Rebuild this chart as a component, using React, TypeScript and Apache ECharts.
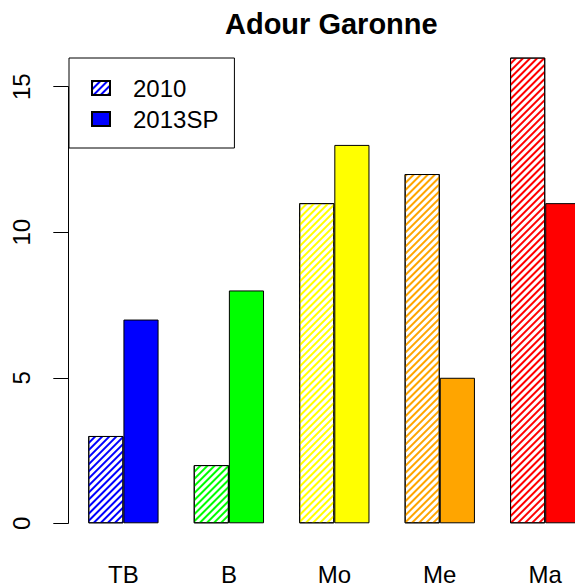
import React, { useEffect, useRef } from "react";
import * as echarts from "echarts";

const categories = ["TB", "B", "Mo", "Me", "Ma"];
const seriesNames = ["2010", "2013SP"];
const values2010 = [3, 2, 11, 12, 16];
const values2013SP = [7, 8, 13, 5, 11];
const categoryColors = ["#0000FF", "#00FF00", "#FFFF00", "#FFA500", "#FF0000"];
const yMin = 0;
const yMax = 15;
const yInterval = 5;
const titleText = "Adour Garonne";

const FONT = "'Liberation Sans', Arial, Helvetica, sans-serif";

const hatch = (color: string) => ({
  symbol: "rect",
  symbolSize: 1,
  dashArrayX: [1, 0],
  dashArrayY: [1.2, 2.2],
  rotation: -Math.PI / 4,
  color,
});

export default function App() {
  const ref = useRef<HTMLDivElement>(null);
  useEffect(() => {
    if (!ref.current) return;
    const chart = echarts.init(ref.current, null, { renderer: "svg" });
    const option: any = {
      animation: false,
      backgroundColor: "#ffffff",
      title: {
        text: titleText,
        left: 225,
        top: 9,
        padding: 0,
        textStyle: { fontFamily: FONT, fontSize: 29, fontWeight: "bold", color: "#000" },
      },
      legend: {
        data: seriesNames,
        orient: "vertical",
        left: 69,
        top: 58,
        padding: [18, 16, 17, 22],
        itemGap: 7,
        itemWidth: 18,
        itemHeight: 14,
        icon: "rect",
        borderColor: "#000",
        borderWidth: 1,
        backgroundColor: "#fff",
        textStyle: { fontFamily: FONT, fontSize: 24, color: "#000", padding: [0, 0, 0, 18] },
      },
      grid: {
        left: 70.7,
        top: 86.7,
        width: 527.25,
        height: 436.6,
        containLabel: false,
        outerBoundsMode: "none",
      },
      xAxis: {
        type: "category",
        data: categories,
        axisLine: { show: false },
        axisTick: { show: false },
        axisLabel: { margin: 41, lineHeight: 20, fontFamily: FONT, fontSize: 24, color: "#000" },
        splitLine: { show: false },
      },
      yAxis: {
        type: "value",
        min: yMin,
        max: yMax,
        interval: yInterval,
        offset: 2.4,
        axisLine: { show: true, lineStyle: { color: "#000", width: 1 } },
        axisTick: { show: true, length: 15, lineStyle: { color: "#000", width: 1 } },
        axisLabel: { rotate: 90, margin: 35, fontFamily: FONT, fontSize: 24, color: "#000" },
        splitLine: { show: false },
      },
      series: [
        {
          name: seriesNames[0],
          type: "bar",
          barWidth: 35.15,
          barGap: "0%",
          clip: false,
          itemStyle: { color: "#fff", borderColor: "#000", borderWidth: 1, decal: hatch(categoryColors[0]) },
          data: values2010.map((v, i) => ({
            value: v,
            itemStyle: { color: "#fff", borderColor: "#000", borderWidth: 1, decal: hatch(categoryColors[i]) },
          })),
        },
        {
          name: seriesNames[1],
          type: "bar",
          barWidth: 35.15,
          barGap: "0%",
          clip: false,
          itemStyle: { color: categoryColors[0], borderColor: "#000", borderWidth: 1 },
          data: values2013SP.map((v, i) => ({
            value: v,
            itemStyle: { color: categoryColors[i], borderColor: "#000", borderWidth: 1 },
          })),
        },
      ],
    };
    chart.setOption(option);
    return () => chart.dispose();
  }, []);
  return (
    <div
      ref={ref}
      style={{ position: "fixed", left: 0, top: 0, width: 575, height: 584, overflow: "hidden" }}
    />
  );
}
